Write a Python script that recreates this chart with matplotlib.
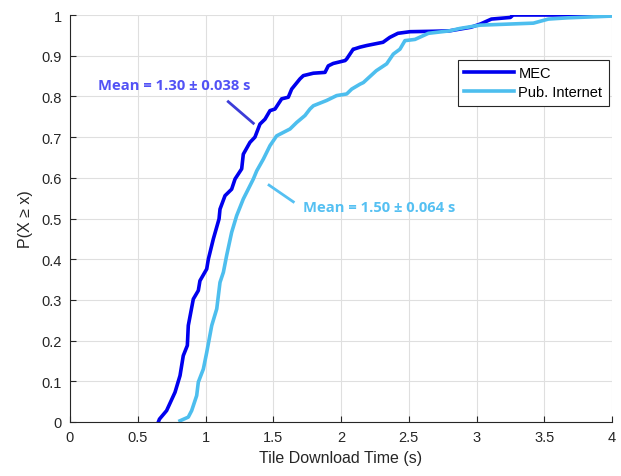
import matplotlib
matplotlib.use("Agg")
import matplotlib.pyplot as plt

# ---- data ----
mec_x = [0.652, 0.66, 0.713, 0.775, 0.812, 0.836, 0.866, 0.873, 0.91, 0.947, 0.959,
         1.009, 1.021, 1.058, 1.10, 1.107, 1.144, 1.193, 1.218, 1.267, 1.279, 1.328,
         1.365, 1.402, 1.439, 1.476, 1.513, 1.562, 1.611, 1.636, 1.697, 1.722, 1.796,
         1.882, 1.906, 1.943, 2.03, 2.042, 2.09, 2.103, 2.14, 2.19, 2.31, 2.36, 2.42,
         2.51, 2.68, 2.80, 2.96, 3.03, 3.11, 3.25, 3.27, 4.05]
mec_y = [0.0, 0.007, 0.028, 0.073, 0.114, 0.163, 0.188, 0.237, 0.302, 0.323, 0.347,
         0.376, 0.40, 0.45, 0.499, 0.523, 0.556, 0.572, 0.597, 0.622, 0.658, 0.687,
         0.70, 0.732, 0.744, 0.765, 0.769, 0.794, 0.798, 0.818, 0.843, 0.851, 0.857,
         0.859, 0.875, 0.881, 0.888, 0.892, 0.916, 0.917, 0.921, 0.925, 0.933, 0.945, 0.955,
         0.959, 0.96, 0.961, 0.970, 0.978, 0.99, 0.994, 1.0, 1.0]

pub_x = [0.812, 0.873, 0.898, 0.935, 0.947, 0.984, 1.009, 1.046, 1.083, 1.107, 1.132,
         1.156, 1.193, 1.23, 1.279, 1.353, 1.378, 1.427, 1.476, 1.525, 1.624, 1.673,
         1.734, 1.771, 1.796, 1.894, 1.968, 2.042, 2.079, 2.14, 2.165, 2.26, 2.337,
         2.386, 2.435, 2.472, 2.546, 2.645, 2.80, 2.878, 3.026, 3.42, 3.53, 3.67, 4.05]
pub_y = [0.003, 0.012, 0.028, 0.065, 0.098, 0.130, 0.171, 0.237, 0.278, 0.343, 0.368,
         0.409, 0.466, 0.507, 0.548, 0.597, 0.617, 0.646, 0.679, 0.703, 0.72, 0.736,
         0.753, 0.769, 0.777, 0.79, 0.802, 0.806, 0.818, 0.830, 0.834, 0.863, 0.88,
         0.904, 0.916, 0.937, 0.94, 0.955, 0.961, 0.967, 0.975, 0.98, 0.99, 0.993, 0.998]

series_labels = ["MEC", "Pub. Internet"]
annot_texts = ["Mean = 1.30 \u00b1 0.038 s", "Mean = 1.50 \u00b1 0.064 s"]
x_ticks = [0, 0.5, 1, 1.5, 2, 2.5, 3, 3.5, 4]
x_tick_labels = ["0", "0.5", "1", "1.5", "2", "2.5", "3", "3.5", "4"]
y_ticks = [0, 0.1, 0.2, 0.3, 0.4, 0.5, 0.6, 0.7, 0.8, 0.9, 1]
y_tick_labels = ["0", "0.1", "0.2", "0.3", "0.4", "0.5", "0.6", "0.7", "0.8", "0.9", "1"]

plt.rcParams['font.family'] = ['Liberation Sans', 'DejaVu Sans']

fig = plt.figure(figsize=(6.21, 4.77), dpi=100)
ax = fig.add_axes([70/621, 54/477, 542/621, 407/477])

c_mec = '#0000EE'
c_pub = '#4DBEEE'

ax.plot(mec_x, mec_y, color=c_mec, lw=2.6, label=series_labels[0], solid_joinstyle='round')
ax.plot(pub_x, pub_y, color=c_pub, lw=2.6, label=series_labels[1], solid_joinstyle='round')

ax.set_xlim(0, 4)
ax.set_ylim(0, 1)
ax.set_xticks(x_ticks)
ax.set_xticklabels(x_tick_labels)
ax.set_yticks(y_ticks)
ax.set_yticklabels(y_tick_labels)
ax.grid(True, color='#DFDFDF', lw=0.8)
ax.set_axisbelow(True)
for s in ['top', 'right']:
    ax.spines[s].set_visible(False)
for s in ['left', 'bottom']:
    ax.spines[s].set_color('#262626')
    ax.spines[s].set_linewidth(0.8)
ax.tick_params(direction='in', length=4, colors='#262626', labelsize=10.5, pad=6)
ax.set_xlabel("Tile Download Time (s)", fontsize=11.5, color='#262626', labelpad=4)
ax.set_ylabel("P(X \u2265 x)", fontsize=11.5, color='#262626', labelpad=6)

# annotations
ax.plot([1.168, 1.353], [0.787, 0.734], color='#3C3CD8', lw=2.0)
ax.text(0.205, 0.828, annot_texts[0], color='#5252F5', fontsize=10.6,
        fontweight='bold', family=['Open Sans', 'DejaVu Sans'], va='center', ha='left')
ax.plot([1.469, 1.648], [0.582, 0.541], color='#55C0F2', lw=2.0)
ax.text(1.72, 0.528, annot_texts[1], color='#55C0F2', fontsize=10.6,
        fontweight='bold', family=['Open Sans', 'DejaVu Sans'], va='center', ha='left')

leg = ax.legend(loc='upper right', bbox_to_anchor=(0.9945, 0.890), fontsize=10.5,
                frameon=True, fancybox=False, edgecolor='#262626', framealpha=1,
                handlelength=3.4, borderpad=0.45, labelspacing=0.35, handletextpad=0.3,
                borderaxespad=0)
leg.get_frame().set_linewidth(0.8)

fig.savefig("out.png", dpi=100)
